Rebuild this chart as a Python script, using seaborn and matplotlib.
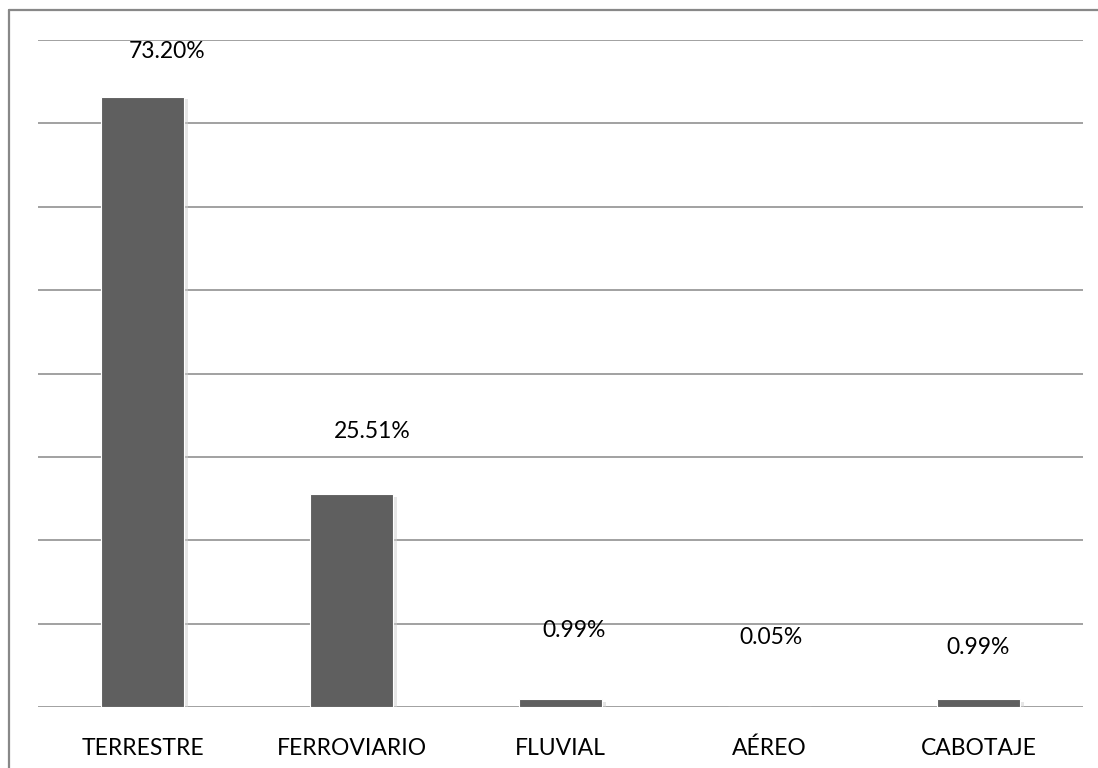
import matplotlib
matplotlib.use("Agg")
import matplotlib.pyplot as plt
import matplotlib.patheffects as pe
from matplotlib.lines import Line2D
import seaborn as sns
import pandas as pd

# Share of cargo by transport mode (%)
modes = ["TERRESTRE", "FERROVIARIO", "FLUVIAL", "AÉREO", "CABOTAJE"]
shares = [73.20, 25.51, 0.99, 0.05, 0.99]
value_labels = ["73.20%", "25.51%", "0.99%", "0.05%", "0.99%"]

# label placement tweaks (above bar in % units, sideways in points)
label_lift = [5.4, 7.5, 8.2, 8.25, 6.1]
label_dx = [18, 15, 10, 1, 0]

sns.set_theme(style="white")
plt.rcParams["font.family"] = ["Lato", "DejaVu Sans"]

df = pd.DataFrame({"mode": modes, "share": shares})

fig = plt.figure(figsize=(10.98, 7.68), dpi=100)
ax = fig.add_axes([38 / 1098, 61 / 768, 1045 / 1098, 667 / 768])

sns.barplot(data=df, x="mode", y="share", color="#5f5f5f", saturation=1,
            width=0.4, edgecolor="white", linewidth=0.8, ax=ax, zorder=3)

for bar in ax.patches:
    bar.set_path_effects([
        pe.SimplePatchShadow(offset=(2.5, -2), shadow_rgbFace="#cfcfcf", alpha=0.5),
        pe.Normal(),
    ])

ax.set_ylim(0, 80)
ax.set_xlim(-0.5, 4.5)
ax.set_yticks(range(0, 81, 10))
ax.set_yticklabels([])
ax.yaxis.grid(True, color="#9a9a9a", linewidth=1.3, zorder=0)
ax.set_axisbelow(True)
ax.tick_params(axis="both", length=0)
ax.tick_params(axis="x", labelsize=16.5, pad=22, colors="black")
for spine in ax.spines.values():
    spine.set_visible(False)
ax.set_xlabel("")
ax.set_ylabel("")

for i, (v, txt) in enumerate(zip(shares, value_labels)):
    ax.annotate(txt, xy=(i, v + label_lift[i]), xytext=(label_dx[i], 0),
                textcoords="offset points", ha="center", va="center",
                fontsize=16.5, color="black", zorder=5)

# chart area frame (top and left edges)
fig.add_artist(Line2D([9 / 1098, 9 / 1098], [0, 758 / 768], transform=fig.transFigure,
                      color="#888888", linewidth=1.6))
fig.add_artist(Line2D([9 / 1098, 1], [758 / 768, 758 / 768], transform=fig.transFigure,
                      color="#888888", linewidth=1.6))

fig.savefig("out.png", dpi=100, facecolor="white")
